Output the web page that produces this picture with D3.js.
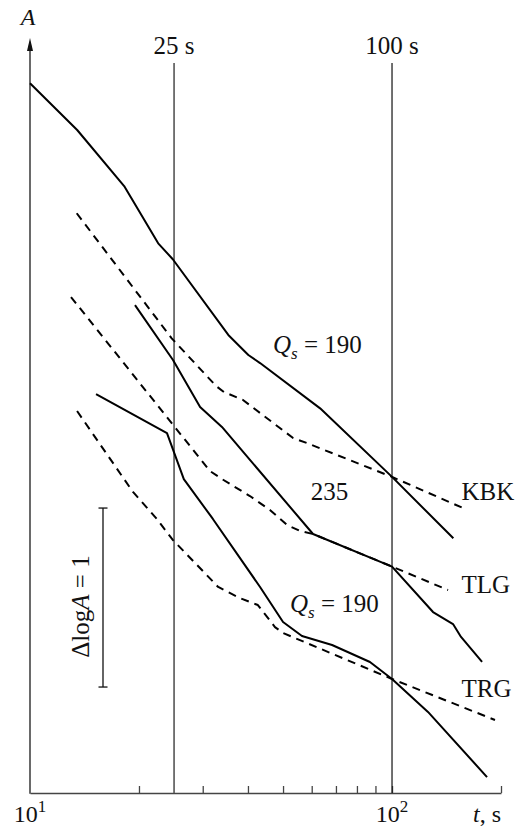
<!DOCTYPE html>
<html>
<head>
<meta charset="utf-8">
<script src="https://cdn.jsdelivr.net/npm/d3@7/dist/d3.min.js"></script>
<style>
  html, body { margin: 0; padding: 0; background: #fff; }
  svg { display: block; }
  text { fill: #111; }
</style>
</head>
<body>
<svg id="chart" width="521" height="827" font-family="'Liberation Serif', 'DejaVu Serif', serif"></svg>
<script>
// ---- data (t in seconds, A as log A in arbitrary units) ----
const kbkSolidT = [10, 13.5, 18.2, 22.6, 24.8, 35.3, 40.1, 43.2, 63.3, 100, 147.7];
const kbkSolidA = [3.965, 3.704, 3.391, 3.071, 2.982, 2.559, 2.447, 2.402, 2.149, 1.766, 1.423];
const kbkDashT  = [13.46, 24.63, 32.65, 34.35, 38.76, 43.2, 53.3, 58.2, 100, 157.1];
const kbkDashA  = [3.239, 2.540, 2.274, 2.240, 2.196, 2.123, 1.983, 1.955, 1.766, 1.592];
const tlgSolidT = [19.5, 24.83, 29.5, 33.9, 60.5, 100, 129.8, 147.4, 155.1, 177.3];
const tlgSolidA = [2.726, 2.419, 2.156, 2.045, 1.447, 1.265, 1.011, 0.944, 0.872, 0.732];
const tlgDashT  = [12.98, 31.4, 33.9, 40.5, 46.0, 51.3, 55.7, 60.5, 100, 142.8];
const tlgDashA  = [2.771, 1.799, 1.754, 1.659, 1.581, 1.497, 1.464, 1.447, 1.265, 1.134];
const trgSolidT = [15.22, 23.9, 26.6, 32.0, 43.2, 50.0, 56.4, 68.3, 86.9, 100, 125.7, 183.0];
const trgSolidA = [2.229, 2.011, 1.754, 1.531, 1.151, 0.955, 0.877, 0.827, 0.732, 0.637, 0.453, 0.089];
const trgDashT  = [13.49, 19.25, 22.4, 24.83, 33.1, 38.0, 42.6, 47.5, 50.0, 100, 192.5];
const trgDashA  = [2.134, 1.682, 1.531, 1.413, 1.151, 1.089, 1.050, 0.927, 0.894, 0.637, 0.408];

const markerTimes  = [25, 100];
const markerLabels = ["25 s", "100 s"];
const markerTop    = 4.078;
const tickValues   = [20, 30, 40, 50, 60, 70, 80, 90, 100, 200];
const decadeTicks  = [10, 100];
const decadeExps   = ["1", "2"];
const scaleBarBase = 0.592;   // Δlog A = 1 bar from here
const scaleBarSize = 1;

const stations = ["KBK", "TLG", "TRG"];

// ---- scales ----
const svg = d3.select("#chart");
const FONT = "'Liberation Serif', 'DejaVu Serif', serif";
const x = d3.scaleLog().domain([10, 200]).range([30, 501]);
const y = d3.scaleLinear().domain([0, 4.218]).range([793, 38]);

const line = d3.line().x(d => x(d[0])).y(d => y(d[1]));
const zip = (a, b) => a.map((v, i) => [v, b[i]]);
const txt = () => svg.append("text").attr("font-family", FONT);

// ---- axes ----
const xAxis = d3.axisBottom(x)
  .tickValues(tickValues)
  .tickSizeInner(-7)
  .tickSizeOuter(0)
  .tickFormat("");
const gx = svg.append("g").attr("transform", `translate(0,${y(0)})`).call(xAxis);
gx.select(".domain").attr("stroke", "#444").attr("stroke-width", 1.6);
gx.selectAll(".tick line").attr("stroke", "#444").attr("stroke-width", 1.3);

// y axis with arrow
const yTop = y.domain()[1];
svg.append("line")
  .attr("x1", x(10)).attr("x2", x(10))
  .attr("y1", y(0) + 0.8).attr("y2", y(yTop) + 10)
  .attr("stroke", "#444").attr("stroke-width", 1.6);
svg.append("path")
  .attr("d", `M${x(10)},${y(yTop)} L${x(10) - 3},${y(yTop) + 13} L${x(10) + 3},${y(yTop) + 13} Z`)
  .attr("fill", "#111");
txt()
  .attr("x", x(10) - 2).attr("y", 25)
  .attr("text-anchor", "middle")
  .attr("font-size", 24).attr("font-style", "italic")
  .text("A");

// decade labels 10^1, 10^2
decadeTicks.forEach((t, i) => {
  const tx = txt()
    .attr("x", x(t)).attr("y", 821.5)
    .attr("text-anchor", "middle")
    .attr("font-size", 24);
  tx.append("tspan").text("10");
  tx.append("tspan").attr("dy", -10).attr("font-size", 17).text(decadeExps[i]);
});
const tl = txt().attr("x", 473).attr("y", 821.5).attr("font-size", 24);
tl.append("tspan").attr("font-style", "italic").text("t");
tl.append("tspan").text(", s");

// vertical marker lines
markerTimes.forEach((t, i) => {
  svg.append("line")
    .attr("x1", x(t)).attr("x2", x(t))
    .attr("y1", y(markerTop)).attr("y2", y(0))
    .attr("stroke", i === 0 ? "#555" : "#111")
    .attr("stroke-width", i === 0 ? 1.6 : 1.2);
  txt()
    .attr("x", x(t)).attr("y", 54)
    .attr("text-anchor", "middle")
    .attr("font-size", 25)
    .text(markerLabels[i]);
});

// ---- curves ----
const curves = [
  {t: kbkSolidT, a: kbkSolidA, dash: null},
  {t: kbkDashT,  a: kbkDashA,  dash: "8,6"},
  {t: tlgSolidT, a: tlgSolidA, dash: null},
  {t: tlgDashT,  a: tlgDashA,  dash: "8,6"},
  {t: trgSolidT, a: trgSolidA, dash: null},
  {t: trgDashT,  a: trgDashA,  dash: "8,6"}
];
curves.forEach(c => {
  svg.append("path")
    .attr("d", line(zip(c.t, c.a)))
    .attr("fill", "none")
    .attr("stroke", "#000")
    .attr("stroke-width", 2)
    .attr("stroke-linejoin", "round")
    .attr("stroke-dasharray", c.dash);
});

// ---- labels ----
function qLabel(px, py) {
  const t = txt().attr("x", px).attr("y", py).attr("font-size", 25);
  t.append("tspan").attr("font-style", "italic").text("Q");
  t.append("tspan").attr("font-style", "italic").attr("font-size", 17).attr("dy", 6).text("s");
  t.append("tspan").attr("dy", -6).text(" = 190");
}
qLabel(273, 353);
qLabel(290, 611.5);

txt().attr("x", 329.5).attr("y", 500).attr("text-anchor", "middle")
  .attr("font-size", 25).text("235");

const stationLabelY = [499.5, 592.5, 697];
stations.forEach((s, i) => {
  txt().attr("x", 461.5).attr("y", stationLabelY[i])
    .attr("font-size", 25).text(s);
});

// ---- scale bar ΔlogA = 1 ----
const barX = 103;
const yb0 = y(scaleBarBase), yb1 = y(scaleBarBase + scaleBarSize);
svg.append("line").attr("x1", barX).attr("x2", barX).attr("y1", yb0).attr("y2", yb1)
  .attr("stroke", "#111").attr("stroke-width", 1.3);
[yb0, yb1].forEach(yy => {
  svg.append("line").attr("x1", barX - 4.5).attr("x2", barX + 4.5).attr("y1", yy).attr("y2", yy)
    .attr("stroke", "#111").attr("stroke-width", 1.3);
});
const bl = txt()
  .attr("transform", `translate(89,${(yb0 + yb1) / 2 + 9}) rotate(-90)`)
  .attr("text-anchor", "middle")
  .attr("font-size", 25);
bl.append("tspan").text("Δlog");
bl.append("tspan").attr("font-style", "italic").text("A");
bl.append("tspan").text(" = 1");
</script>
</body>
</html>
